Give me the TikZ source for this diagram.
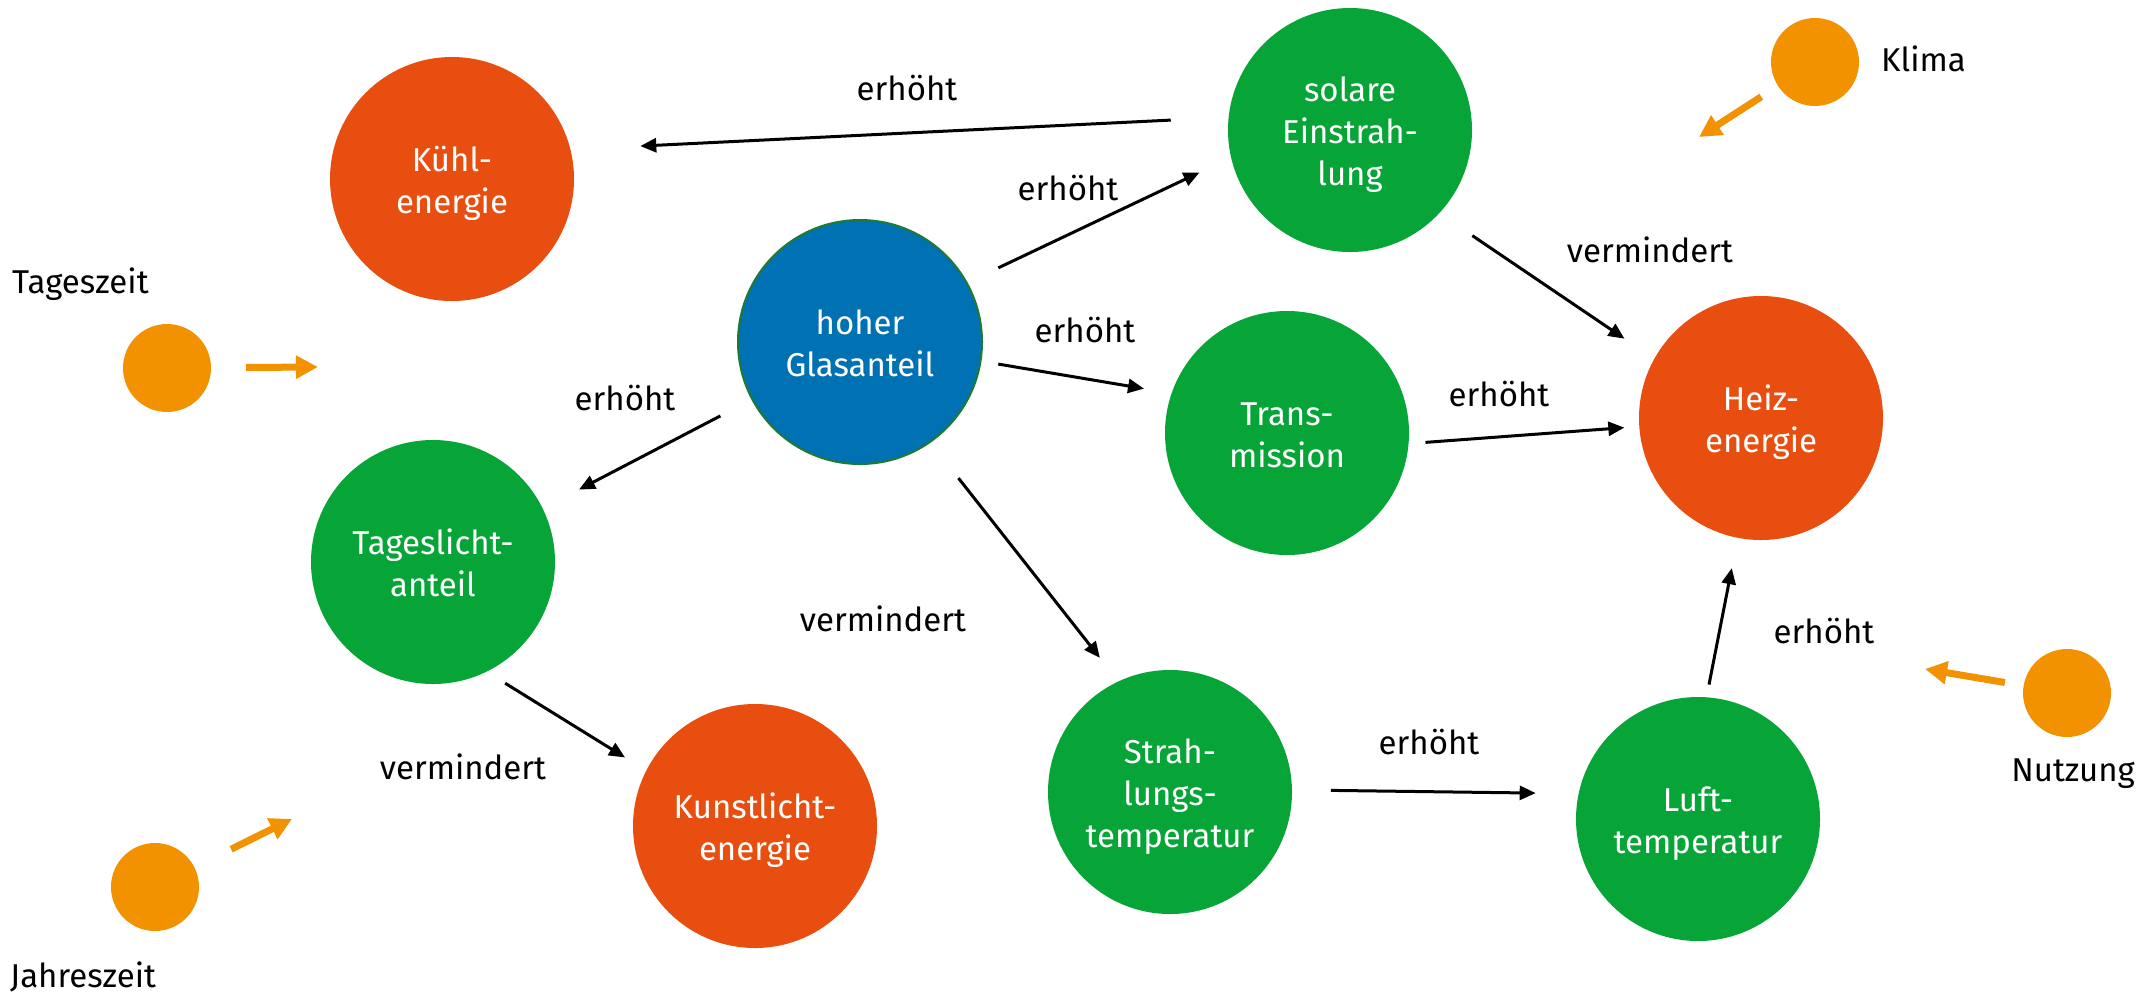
\documentclass[tikz,border=0pt]{standalone}
\usepackage{fontspec}
\setmainfont{Fira Sans}
\usetikzlibrary{arrows.meta}
\definecolor{cRed}{HTML}{E84E0F}
\definecolor{cGreen}{HTML}{07A537}
\definecolor{cBlue}{HTML}{0071B2}
\definecolor{cBorder}{HTML}{1E7A32}
\definecolor{cOrange}{HTML}{F39200}
\newcommand{\myst}{\rule[-8pt]{0pt}{42pt}}
\begin{document}
\begin{tikzpicture}[x=1pt,y=-1pt,
  big/.style={circle, minimum size=244pt, inner sep=0pt, outer sep=0pt, text=white, align=center, font=\fontsize{33}{42}\selectfont},
  small/.style={circle, fill=cOrange, minimum size=88pt, inner sep=0pt, outer sep=0pt},
  lbl/.style={font=\fontsize{33}{42}\selectfont, inner sep=0pt, anchor=base},
  arr/.style={line width=3pt, -{Triangle[length=16pt,width=14pt]}},
  oarr/.style={draw=cOrange, line width=7pt, -{Triangle[length=22pt,width=22pt]}}
]
\useasboundingbox (0,0) rectangle (2154,994);
% main circles
\node[big, fill=cRed] (kuehl) at (452,179) {Kühl-\myst\\energie\myst};
\node[big, fill=cGreen] (solar) at (1350,130) {solare\myst\\Einstrah-\myst\\lung\myst};
\node[big, fill=cBlue, draw=cBorder, line width=2pt] (glas) at (860,342) {hoher\myst\\Glasanteil\myst};
\node[big, fill=cGreen] (trans) at (1287,433) {Trans-\myst\\mission\myst};
\node[big, fill=cRed] (heiz) at (1761,418) {Heiz-\myst\\energie\myst};
\node[big, fill=cGreen] (tages) at (433,562) {Tageslicht-\myst\\anteil\myst};
\node[big, fill=cRed] (kunst) at (755,826) {Kunstlicht-\myst\\energie\myst};
\node[big, fill=cGreen] (strahl) at (1170,792) {Strah-\myst\\lungs-\myst\\temperatur\myst};
\node[big, fill=cGreen] (luft) at (1698,819) {Luft-\myst\\temperatur\myst};
% small circles
\node[small] (tz) at (167,368) {};
\node[small] (klima) at (1815,62) {};
\node[small] (jz) at (155,887) {};
\node[small] (nutz) at (2067,693) {};
% connectors
\draw[arr, shorten <=58pt, shorten >=70pt] (solar.174) -- (kuehl.14);
\draw[arr, shorten <=35pt, shorten >=35pt] (glas.29) -- (solar.193);
\draw[arr, shorten <=36pt, shorten >=41pt] (glas.208) -- (tages.26);
\draw[arr, shorten <=18pt, shorten >=28pt] (glas.351) -- (trans.161);
\draw[arr, shorten <=46pt, shorten >=30pt] (glas.305) -- (strahl.115);
\draw[arr, shorten <=40pt, shorten >=36pt] (solar.317) -- (heiz.151);
\draw[arr, shorten <=17pt, shorten >=15pt] (trans.355) -- (heiz.184);
\draw[arr, shorten <=22pt, shorten >=25pt] (tages.296) -- (kunst.153);
\draw[arr, shorten <=39pt, shorten >=43pt] (strahl.1) -- (luft.168);
\draw[arr, shorten <=13pt, shorten >=31pt] (luft.86) -- (heiz.259);
% orange influence arrows
\coordinate (tzE) at (318,367);
\coordinate (klE) at (1699,137);
\coordinate (jzE) at (292,819);
\coordinate (nuE) at (1925,669);
\draw[oarr, shorten <=35pt] (tz) -- (tzE);
\draw[oarr, shorten <=20pt] (klima) -- (klE);
\draw[oarr, shorten <=41pt] (jz) -- (jzE);
\draw[oarr, shorten <=19pt] (nutz) -- (nuE);
% connector labels
\node[lbl] (l1) at (907,100) {erhöht};
\node[lbl] (l2) at (1068,200) {erhöht};
\node[lbl] (l3) at (1085,342) {erhöht};
\node[lbl] (l4) at (625,410) {erhöht};
\node[lbl] (l5) at (1650,262) {vermindert};
\node[lbl] (l6) at (1499,406) {erhöht};
\node[lbl] (l7) at (883,631) {vermindert};
\node[lbl] (l8) at (463,779) {vermindert};
\node[lbl] (l9) at (1429,754) {erhöht};
\node[lbl] (l10) at (1824,643) {erhöht};
% factor labels
\node[lbl, anchor=base west] (ltz) at (12,293) {Tageszeit};
\node[lbl, anchor=base west] (lkl) at (1881,71) {Klima};
\node[lbl, anchor=base west] (ljz) at (10,987) {Jahreszeit};
\node[lbl] (lnu) at (2073,781) {Nutzung};
\end{tikzpicture}
\end{document}
